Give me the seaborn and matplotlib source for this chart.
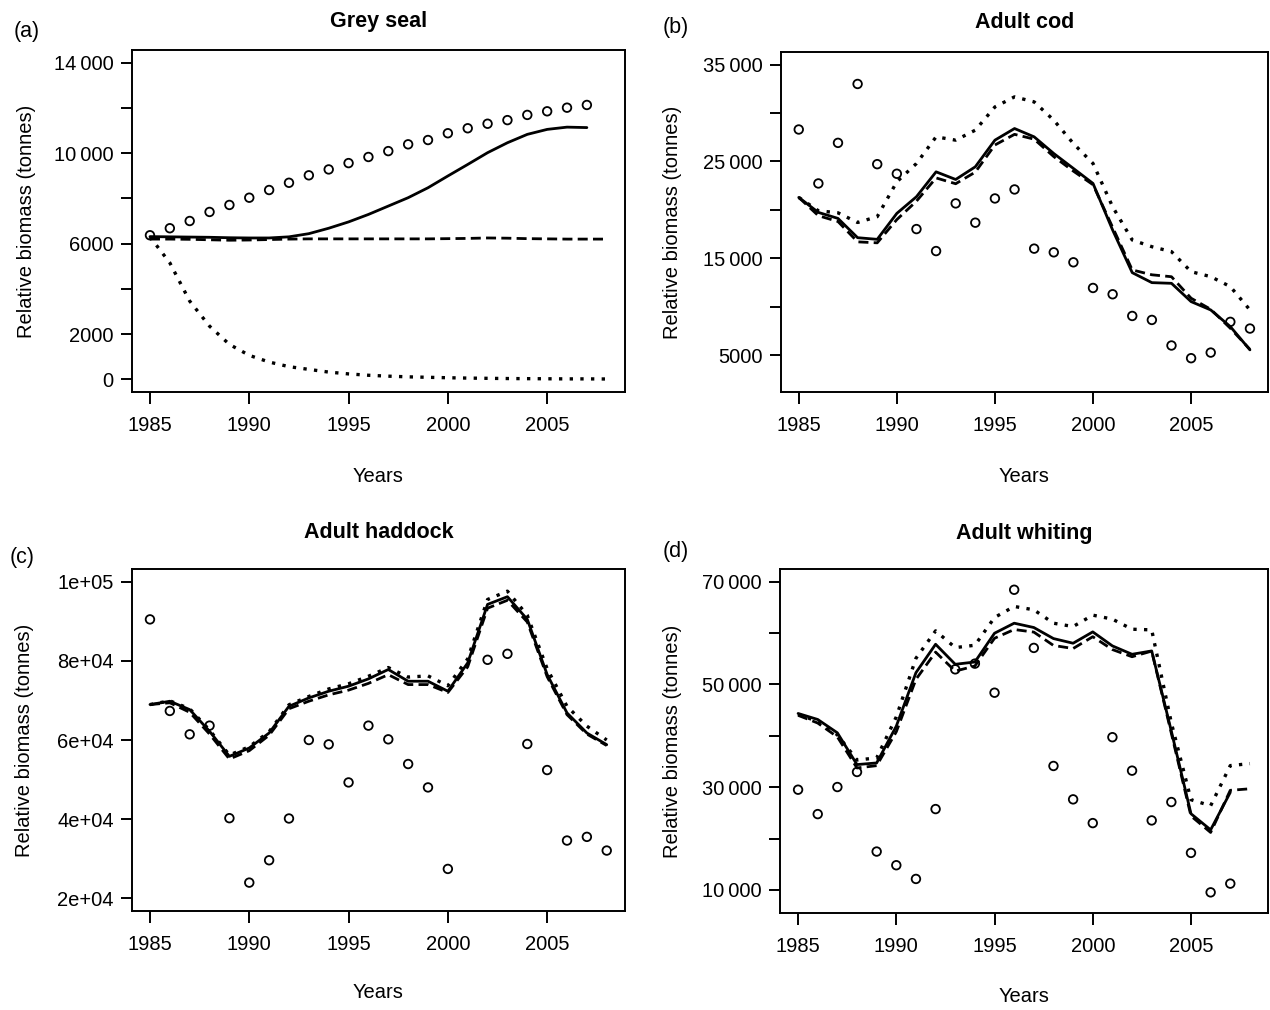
import numpy as np
import matplotlib
matplotlib.use("Agg")
import matplotlib.pyplot as plt
import seaborn as sns

nan = np.nan
years = list(range(1985, 2009))

# Grey seal
seal_obs = [6370, 6680, 7000, 7400, 7710, 8030, 8370, 8690, 9020, 9280, 9560, 9830,
            10090, 10390, 10580, 10880, 11100, 11300, 11460, 11690, 11850, 12010, 12130, nan]
seal_solid = [6310, 6300, 6290, 6280, 6260, 6250, 6250, 6300, 6440, 6680, 6960, 7290,
              7660, 8030, 8470, 8990, 9500, 10020, 10460, 10830, 11050, 11150, 11130, nan]
seal_dashed = [6200, 6200, 6190, 6170, 6150, 6160, 6180, 6200, 6210, 6210, 6210, 6210,
               6210, 6210, 6210, 6220, 6230, 6250, 6240, 6220, 6210, 6200, 6200, 6200]
seal_dotted = [6300, 5150, 3460, 2350, 1545, 1060, 765, 560, 440, 320, 240, 180,
               140, 110, 90, 70, 55, 45, 35, 30, 25, 20, 20, 15]

# Adult cod
cod_obs = [28300, 22730, 26920, 33000, 24720, 23730, 18020, 15750, 20670, 18680, 21180, 22110,
           16000, 15620, 14590, 11940, 11290, 9050, 8640, 6000, 4690, 5270, 8440, 7750]
cod_solid = [21290, 19740, 19120, 17130, 16960, 19640, 21360, 23930, 23140, 24450, 27200, 28400,
             27540, 25820, 24280, 22730, 17920, 13520, 12490, 12420, 10530, 9670, 7950, 5550]
cod_dashed = [21290, 19400, 18800, 16700, 16600, 19000, 20900, 23300, 22700, 23900, 26700, 27800,
              27300, 25500, 24000, 22600, 18200, 13800, 13300, 13100, 10880, 9740, 7780, 5600]
cod_dotted = [21290, 19910, 19700, 18700, 19300, 22900, 24790, 27540, 27200, 28230, 30630, 31670,
              31150, 29260, 26850, 24790, 20320, 16890, 16200, 15690, 13620, 13110, 12080, 9670]

# Adult haddock
haddock_obs = [90470, 67340, 61430, 63630, 40250, 23970, 29620, 40170, 60000, 58900, 49280, 63630,
               60170, 53930, 48020, 27430, nan, 80260, 81770, 58990, 52410, 34600, 35530, 32070]
haddock_solid = [68950, 69790, 67680, 62200, 55870, 57980, 61770, 68520, 70630, 72320, 73590, 75440,
                 77810, 74850, 74850, 72320, 79490, 94260, 96200, 90470, 76540, 66840, 61770, 58820]
haddock_dashed = [68950, 69400, 67000, 61500, 55200, 57300, 61200, 67900, 69800, 71400, 72600, 74300,
                  76500, 74000, 74000, 72000, 78500, 93300, 95300, 89800, 76000, 66400, 61500, 58600]
haddock_dotted = [68950, 69900, 67900, 62500, 56200, 58300, 62100, 68900, 71000, 72900, 74200, 76100,
                  78300, 75900, 76200, 73700, 80500, 95500, 97600, 91500, 78000, 68500, 63500, 60000]

# Adult whiting
whiting_obs = [29520, 24770, 30040, 32970, 17480, 14820, 12150, 25750, 52950, 54060, 48400, 68440,
               57120, 34140, 27640, 23020, 39740, 33230, 23540, 27120, 17220, 9540, 11240, nan]
whiting_solid = [44360, 43190, 40590, 34410, 34730, 41890, 52300, 57830, 53930, 54380, 59980, 61930,
                 61090, 58940, 58030, 60240, 57510, 55880, 56530, 40910, 24840, 21710, 29000, nan]
whiting_dashed = [44000, 42500, 39800, 33750, 34200, 40800, 51000, 56300, 52600, 53600, 59000, 60700,
                  60200, 57600, 57000, 59300, 56800, 55400, 56500, 40500, 24400, 21200, 29400, 29700]
whiting_dotted = [44200, 42800, 40200, 35300, 35700, 43700, 55100, 60440, 57180, 57640, 63040, 65190,
                  64540, 61930, 61280, 63500, 62720, 60760, 60630, 42540, 27570, 26400, 34210, 34600]

ts = "\u2009"
seal_ticks = [0, 2000, 4000, 6000, 8000, 10000, 12000, 14000]
seal_labels = ["0", "2000", "", "6000", "", "10" + ts + "000", "", "14" + ts + "000"]
cod_ticks = [5000, 10000, 15000, 20000, 25000, 30000, 35000]
cod_labels = ["5000", "", "15" + ts + "000", "", "25" + ts + "000", "", "35" + ts + "000"]
haddock_ticks = [20000, 40000, 60000, 80000, 100000]
haddock_labels = ["2e+04", "4e+04", "6e+04", "8e+04", "1e+05"]
whiting_ticks = [10000, 20000, 30000, 40000, 50000, 60000, 70000]
whiting_labels = ["10" + ts + "000", "", "30" + ts + "000", "", "50" + ts + "000", "", "70" + ts + "000"]

sns.set_theme(style="ticks")
plt.rcParams["font.family"] = ["Liberation Sans", "DejaVu Sans"]
plt.rcParams.update({
    "axes.linewidth": 1.4,
    "axes.edgecolor": "black",
    "xtick.major.size": 8.5,
    "ytick.major.size": 8.0,
    "xtick.major.width": 1.4,
    "ytick.major.width": 1.4,
    "xtick.color": "black",
    "ytick.color": "black",
    "text.color": "black",
})

W, H = 1270, 1010
fig = plt.figure(figsize=(W / 100, H / 100), dpi=100)


def box(l, t, r, b):
    return [l / W, 1 - b / H, (r - l) / W, (b - t) / H]


def txt(x, y, s, **kw):
    fig.text(x / W, 1 - y / H, s, ha="center", va="center", color="black", **kw)


panels = [
    ("Grey seal", "(a)", (131.7, 50, 625, 392), (-560, 14560),
     seal_obs, seal_solid, seal_dashed, seal_dotted, seal_ticks, seal_labels,
     (27, 31), 21, 27, 477),
    ("Adult cod", "(b)", (780.7, 52, 1268, 392), (1200, 36300),
     cod_obs, cod_solid, cod_dashed, cod_dotted, cod_ticks, cod_labels,
     (676, 27), 22, 672, 477),
    ("Adult haddock", "(c)", (131.7, 569, 625, 911), (16800, 103200),
     haddock_obs, haddock_solid, haddock_dashed, haddock_dotted, haddock_ticks, haddock_labels,
     (22, 557), 533, 25, 993),
    ("Adult whiting", "(d)", (780, 569, 1268, 913), (5520, 72480),
     whiting_obs, whiting_solid, whiting_dashed, whiting_dotted, whiting_ticks, whiting_labels,
     (676, 551), 534, 672, 997),
]

for (title, letter, (l, t, r, b), ylim, obs, solid, dashed, dotted, yt, yl,
     letter_xy, title_y, ylab_x, xlab_y) in panels:
    ax = fig.add_axes(box(l, t, r, b))
    sns.lineplot(x=years, y=dotted, ax=ax, color="black", lw=2.4,
                 linestyle=(0, (1, 2.2)))
    sns.lineplot(x=years, y=dashed, ax=ax, color="black", lw=2.0,
                 linestyle=(0, (3.6, 1.9)))
    sns.lineplot(x=years, y=solid, ax=ax, color="black", lw=2.0)
    sns.scatterplot(x=years, y=obs, ax=ax, marker="o", s=38,
                    facecolor="none", edgecolor="black", linewidth=1.3, zorder=3)
    ax.set_xlim(1984.08, 2008.92)
    ax.set_ylim(*ylim)
    ax.set_xticks([1985, 1990, 1995, 2000, 2005])
    ax.set_yticks(yt)
    ax.set_yticklabels(yl)
    ax.tick_params(axis="x", labelsize=14.5, pad=9)
    ax.tick_params(axis="y", labelsize=14.5, pad=5)
    ax.set_xlabel("")
    ax.set_ylabel("")

    txt((l + r) / 2, title_y, title, fontsize=15.5, fontweight="bold")
    txt(letter_xy[0], letter_xy[1], letter, fontsize=15.5)
    txt(ylab_x, (t + b) / 2, "Relative biomass (tonnes)", fontsize=14.5, rotation=90)
    txt((l + r) / 2, xlab_y, "Years", fontsize=14.5)

fig.savefig("out.png", dpi=100, facecolor="white")
